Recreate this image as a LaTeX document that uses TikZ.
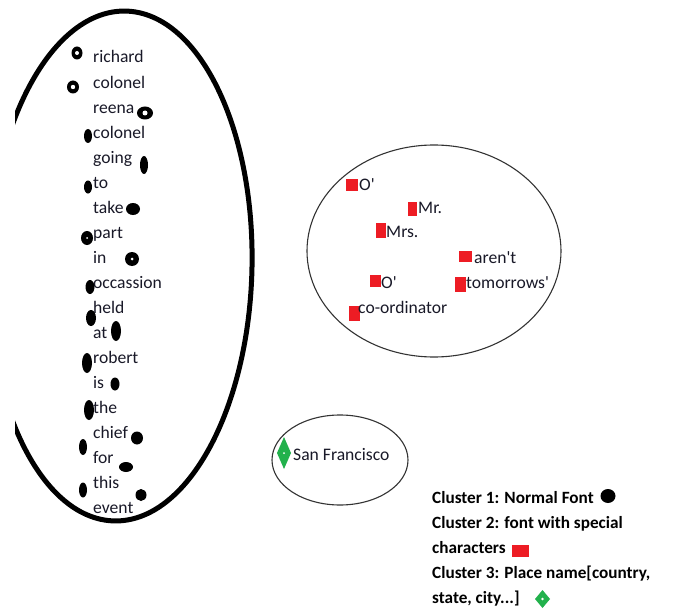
\documentclass[tikz,border=0pt]{standalone}
\usepackage{fontspec}
\newfontfamily\calib{Carlito}
\definecolor{paintred}{HTML}{ED1C24}
\definecolor{paintgreen}{HTML}{22B14C}
\definecolor{inktext}{RGB}{25,25,40}
\tikzset{
  word/.style={anchor=base west, inner sep=0pt, text=inktext,
    font=\calib\fontsize{17.6}{21}\selectfont},
  legendtext/.style={anchor=base west, inner sep=0pt, text=black,
    font=\calib\bfseries\fontsize{17.2}{21}\selectfont},
  thinloop/.style={draw=black!80, line width=1.1pt},
  redmark/.style={fill=paintred},
  greenmark/.style={fill=paintgreen},
}
\begin{document}
\begin{tikzpicture}[x=1pt,y=-1pt]
\useasboundingbox[fill=white] (0,0) rectangle (673,610);

% cluster 1 outline: thick ellipse, its left side cut off by the frame edge
\begin{scope}
  \clip (15,0) rectangle (673,610);
  \draw[line width=5pt, rotate around={-1.3:(120,266)}] (120,266) ellipse [x radius=132pt, y radius=255pt];
\end{scope}

% cluster 1 words
\foreach \w [count=\i] in {richard,colonel,reena,colonel,going,to,take,part,in,
    occassion,held,at,robert,is,the,chief,for,this,event}
  \node[word] (w\i) at (93,{63+25.05*(\i-1)}) {\w};

% cluster 1 marks: rings
\foreach \x/\y/\rx/\ry/\h in {77/53/5.5/6.5/2, 73/87/6/6.5/2.2, 145/113/8/6.5/2.5,
    87/238/6/7/1, 132/259/7/7/1.5}{
  \fill (\x,\y) ellipse [x radius=\rx pt, y radius=\ry pt];
  \fill[white] (\x,\y) ellipse [x radius=\h pt, y radius=\h pt];
}
% cluster 1 marks: solid blobs
\foreach \x/\y/\rx/\ry in {88/136/4/7, 144/165/4/9, 88/187/4/6.5, 133/209/7/6,
    90/287/4.5/7, 91/318/5/8, 116/331/5/10, 87/363/5/10, 115/384/4.5/6.5,
    89/410/5/10, 137/438/6/6.5, 83/447/4/8, 126/467/7/5, 83/490/4/7.5, 141/495/5.5/6}
  \fill (\x,\y) ellipse [x radius=\rx pt, y radius=\ry pt];

% cluster 2 outline and words
\draw[thinloop] (434,251) ellipse [x radius=127pt, y radius=106pt];
\fill[redmark] (346,179) rectangle (358,191);
\node[word] (s1) at (359,190) {O'};
\fill[redmark] (408,202) rectangle (417,216);
\node[word] (s2) at (418,213) {Mr.};
\fill[redmark] (376,223) rectangle (386,238);
\node[word] (s3) at (386,237) {Mrs.};
\fill[redmark] (459,251) rectangle (472,262);
\node[word] (s4) at (474,263) {aren't};
\fill[redmark] (370,275) rectangle (381,287);
\node[word] (s5) at (381,288) {O'};
\fill[redmark] (455,277) rectangle (466,292);
\node[word] (s6) at (466,288) {tomorrows'};
\fill[redmark] (349,306) rectangle (360,321);
\node[word] (s7) at (358,313) {co-ordinator};

% cluster 3 outline and word
\draw[thinloop] (340,460) ellipse [x radius=68pt, y radius=45pt];
\fill[greenmark] (284,437) -- (291,453) -- (284,469) -- (277,453) -- cycle;
\fill[white] (284,453) circle [radius=1pt];
\node[word] (p1) at (293,460) {San Francisco};

% legend
\node[legendtext] (l1) at (432,503) {Cluster 1: Normal Font};
\fill (608,496) ellipse [x radius=7.5pt, y radius=7pt];
\node[legendtext] (l2) at (432,528) {Cluster 2: font with special};
\node[legendtext] (l3) at (432,553) {characters};
\fill[redmark] (512,545) rectangle (529,557);
\node[legendtext] (l4) at (432,578) {Cluster 3: Place name[country,};
\node[legendtext] (l5) at (432,603) {state, city...]};
\fill[greenmark] (542.5,590) -- (550,599) -- (542.5,608) -- (535,599) -- cycle;
\fill[white] (542.5,599) circle [radius=1.3pt];
\end{tikzpicture}
\end{document}
